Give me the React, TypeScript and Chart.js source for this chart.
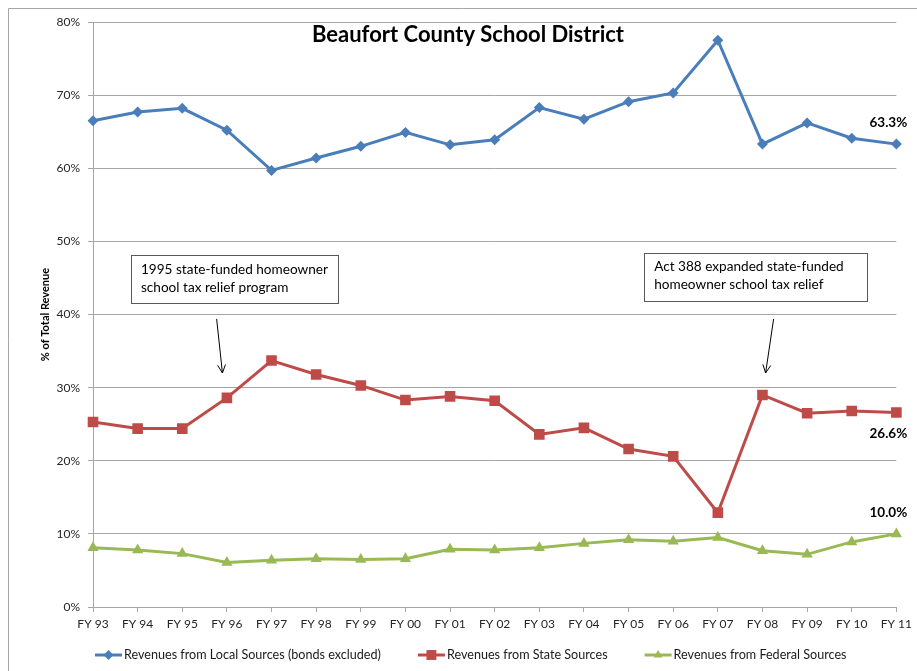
import React, { useEffect, useRef } from "react";
import { Chart, registerables } from "chart.js";

Chart.register(...registerables);

const categories = ["FY 93","FY 94","FY 95","FY 96","FY 97","FY 98","FY 99","FY 00","FY 01","FY 02","FY 03","FY 04","FY 05","FY 06","FY 07","FY 08","FY 09","FY 10","FY 11"];
const localValues = [66.5,67.7,68.2,65.2,59.7,61.4,63.0,64.9,63.2,63.9,68.3,66.7,69.1,70.3,77.5,63.3,66.2,64.1,63.3];
const stateValues = [25.3,24.4,24.4,28.6,33.7,31.8,30.3,28.3,28.8,28.2,23.6,24.5,21.6,20.6,12.9,29.0,26.5,26.8,26.6];
const federalValues = [8.1,7.8,7.3,6.1,6.4,6.6,6.5,6.6,7.9,7.8,8.1,8.7,9.2,9.0,9.5,7.7,7.2,8.9,10.0];
const seriesNames = ["Revenues from Local Sources (bonds excluded)","Revenues from State Sources","Revenues from Federal Sources"];
const yTicks = [0,10,20,30,40,50,60,70,80];
const titleText = "Beaufort County School District";
const yTitle = "% of Total Revenue";
const notes = [
  { lines: ["1995 state-funded homeowner", "school tax relief program"], box: [0.85, 48.1, 5.49, 41.5], arrow: [2.77, 39.4, 2.9, 32.0] },
  { lines: ["Act 388 expanded state-funded", "homeowner school tax relief"], box: [12.35, 48.4, 17.35, 41.8], arrow: [15.25, 39.4, 15.07, 32.0] },
];

const COLORS = ["#4a7ebb", "#be4b48", "#98b954"];
const STYLES = ["rectRot", "rect", "triangle"];
const LABEL_SIDE = [-1, 1, -1];
const FONT = "Lato, 'Open Sans', sans-serif";

function marker(ctx: CanvasRenderingContext2D, style: string, x: number, y: number, r: number) {
  ctx.beginPath();
  if (style === "rectRot") {
    ctx.moveTo(x - r, y); ctx.lineTo(x, y - r); ctx.lineTo(x + r, y); ctx.lineTo(x, y + r);
  } else if (style === "rect") {
    const s = r * Math.SQRT1_2;
    ctx.rect(x - s, y - s, 2 * s, 2 * s);
  } else {
    for (let i = 0; i < 3; i++) {
      const a = (i * 2 * Math.PI) / 3;
      const px = x + Math.sin(a) * r, py = y - Math.cos(a) * r;
      if (i === 0) ctx.moveTo(px, py); else ctx.lineTo(px, py);
    }
  }
  ctx.closePath();
  ctx.fill();
}

const decorPlugin = {
  id: "decor",
  beforeDraw(chart: any) {
    const ctx = chart.ctx;
    ctx.save();
    ctx.fillStyle = "#ffffff";
    ctx.fillRect(0, 0, chart.width, chart.height);
    ctx.strokeStyle = "#a6a6a6";
    ctx.lineWidth = 1;
    ctx.beginPath();
    ctx.moveTo(8.5, chart.height);
    ctx.lineTo(8.5, 8.5);
    ctx.lineTo(chart.width, 8.5);
    ctx.stroke();
    ctx.restore();
  },
  afterDatasetsDraw(chart: any) {
    const ctx = chart.ctx;
    const xs = chart.scales.x, ys = chart.scales.y;
    const area = chart.chartArea;
    ctx.save();
    // title
    ctx.fillStyle = "#000";
    ctx.font = `bold 22px ${FONT}`;
    ctx.textAlign = "center";
    ctx.textBaseline = "middle";
    ctx.fillText(titleText, 468, 35);
    // y title
    ctx.save();
    ctx.translate(45, (area.top + area.bottom) / 2);
    ctx.rotate(-Math.PI / 2);
    ctx.font = `bold 11px ${FONT}`;
    ctx.fillText(yTitle, 0, 0);
    ctx.restore();
    // end labels
    ctx.font = `bold 13.5px ${FONT}`;
    chart.data.datasets.forEach((ds: any, i: number) => {
      const meta = chart.getDatasetMeta(i);
      const last = meta.data[meta.data.length - 1];
      const v = ds.data[ds.data.length - 1];
      ctx.fillText(v.toFixed(1) + "%", last.x - 8, last.y + LABEL_SIDE[i] * 21);
    });
    // notes
    notes.forEach((n) => {
      const x1 = xs.getPixelForValue(n.box[0]), y1 = ys.getPixelForValue(n.box[1]);
      const x2 = xs.getPixelForValue(n.box[2]), y2 = ys.getPixelForValue(n.box[3]);
      ctx.fillStyle = "#fff";
      ctx.fillRect(x1, y1, x2 - x1, y2 - y1);
      ctx.strokeStyle = "#595959";
      ctx.lineWidth = 1;
      ctx.strokeRect(Math.round(x1) + 0.5, Math.round(y1) + 0.5, Math.round(x2 - x1), Math.round(y2 - y1));
      ctx.fillStyle = "#000";
      ctx.font = `13.6px ${FONT}`;
      ctx.textAlign = "left";
      ctx.textBaseline = "middle";
      n.lines.forEach((t, k) => ctx.fillText(t, x1 + 10, y1 + 14 + k * 18));
      const ax1 = xs.getPixelForValue(n.arrow[0]), ay1 = ys.getPixelForValue(n.arrow[1]);
      const ax2 = xs.getPixelForValue(n.arrow[2]), ay2 = ys.getPixelForValue(n.arrow[3]);
      ctx.strokeStyle = "#000";
      ctx.beginPath();
      ctx.moveTo(ax1, ay1);
      ctx.lineTo(ax2, ay2);
      const ang = Math.atan2(ay2 - ay1, ax2 - ax1);
      const L = 9, spread = 0.45;
      ctx.moveTo(ax2 - L * Math.cos(ang - spread), ay2 - L * Math.sin(ang - spread));
      ctx.lineTo(ax2, ay2);
      ctx.lineTo(ax2 - L * Math.cos(ang + spread), ay2 - L * Math.sin(ang + spread));
      ctx.stroke();
    });
    // legend
    ctx.font = `12.6px ${FONT}`;
    ctx.textAlign = "left";
    ctx.textBaseline = "middle";
    let lx = 95;
    const ly = 655;
    seriesNames.forEach((name, i) => {
      ctx.strokeStyle = COLORS[i];
      ctx.fillStyle = COLORS[i];
      ctx.lineWidth = 3;
      ctx.beginPath();
      ctx.moveTo(lx, ly);
      ctx.lineTo(lx + 27, ly);
      ctx.stroke();
      marker(ctx, STYLES[i], lx + 13.5, ly, i === 1 ? 7 : 5);
      ctx.fillStyle = "#1a1a1a";
      ctx.fillText(name, lx + 29, ly);
      lx += 29 + ctx.measureText(name).width + 37;
    });
    ctx.restore();
  },
};

export default function App() {
  const ref = useRef<HTMLCanvasElement | null>(null);
  useEffect(() => {
    document.body.style.margin = "0";
    document.body.style.overflow = "hidden";
    const mk = (i: number, data: number[], r: number) => ({
      label: seriesNames[i],
      data,
      borderColor: COLORS[i],
      backgroundColor: COLORS[i],
      borderWidth: 3,
      pointStyle: STYLES[i],
      pointRadius: r,
      pointBorderWidth: 0,
      pointBackgroundColor: COLORS[i],
      tension: 0,
    });
    const chart = new Chart(ref.current as HTMLCanvasElement, {
      type: "line",
      data: {
        labels: categories,
        datasets: [mk(0, localValues, 5.5), mk(1, stateValues, 7.5), mk(2, federalValues, 6.5)],
      },
      plugins: [decorPlugin],
      options: {
        animation: false,
        responsive: false,
        layout: { padding: { left: 0, right: 18, top: 22, bottom: 0 } },
        plugins: { legend: { display: false }, tooltip: { enabled: false }, title: { display: false } },
        scales: {
          x: {
            offset: false,
            grid: { drawOnChartArea: false, drawTicks: true, tickLength: 5, color: "#a6a6a6" },
            border: { color: "#a6a6a6" },
            ticks: { color: "#262626", font: { family: FONT, size: 12 }, padding: 5, maxRotation: 0, autoSkip: false },
            afterFit: (s: any) => { s.height = 64; },
          },
          y: {
            min: 0,
            max: 80,
            afterBuildTicks: (s: any) => { s.ticks = yTicks.map((v) => ({ value: v })); },
            grid: { color: "#a6a6a6", tickLength: 5 },
            border: { color: "#a6a6a6" },
            ticks: { color: "#262626", font: { family: FONT, size: 12 }, padding: 8, callback: (v: any) => v + "%" },
            afterFit: (s: any) => { s.width = 93; },
          },
        },
      } as any,
    });
    return () => chart.destroy();
  }, []);
  return <canvas ref={ref} width={917} height={671} style={{ display: "block" }} />;
}
